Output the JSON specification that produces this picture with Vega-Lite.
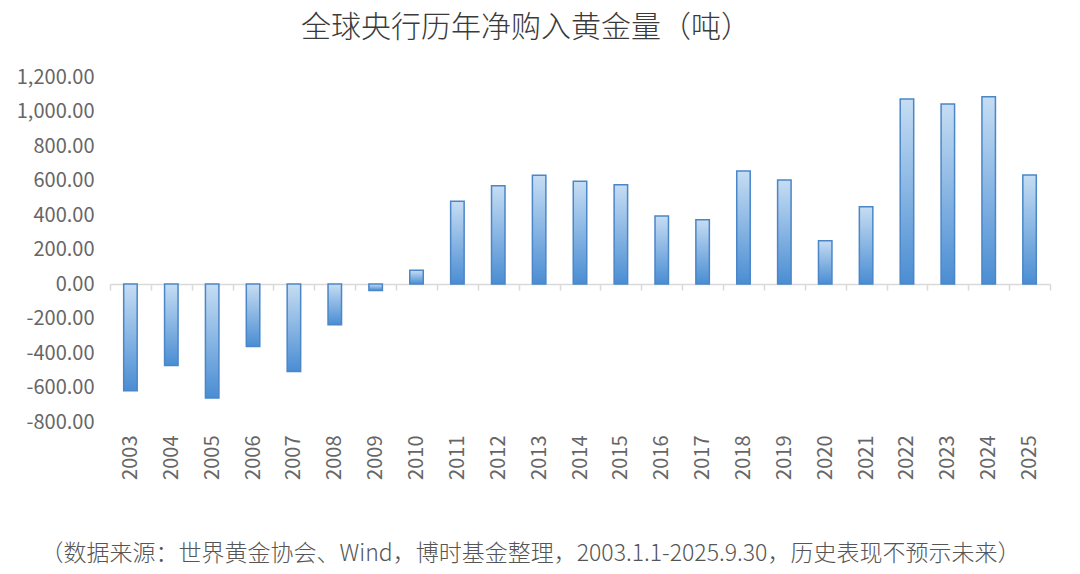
{
  "$schema": "https://vega.github.io/schema/vega-lite/v6.json",
  "description": "全球央行历年净购入黄金量（吨）",
  "width": 940,
  "height": 345,
  "autosize": {"type": "none"},
  "padding": {"left": 110, "top": 77, "right": 30, "bottom": 152},
  "background": "white",
  "title": {
    "text": "全球央行历年净购入黄金量（吨）",
    "font": "Noto Sans CJK SC",
    "fontSize": 30,
    "fontWeight": 300,
    "color": "#3a3a3a",
    "anchor": "middle",
    "dx": -54,
    "offset": 24
  },
  "data": {
    "values": [
      {"year": "2003", "tons": -619},
      {"year": "2004", "tons": -472},
      {"year": "2005", "tons": -661},
      {"year": "2006", "tons": -362},
      {"year": "2007", "tons": -507},
      {"year": "2008", "tons": -236},
      {"year": "2009", "tons": -37},
      {"year": "2010", "tons": 79},
      {"year": "2011", "tons": 479},
      {"year": "2012", "tons": 570},
      {"year": "2013", "tons": 630},
      {"year": "2014", "tons": 595},
      {"year": "2015", "tons": 576},
      {"year": "2016", "tons": 394},
      {"year": "2017", "tons": 373},
      {"year": "2018", "tons": 655},
      {"year": "2019", "tons": 603},
      {"year": "2020", "tons": 251},
      {"year": "2021", "tons": 448},
      {"year": "2022", "tons": 1072},
      {"year": "2023", "tons": 1043},
      {"year": "2024", "tons": 1086},
      {"year": "2025", "tons": 632}
    ]
  },
  "mark": {
    "type": "bar",
    "width": {"band": 0.33},
    "stroke": "#4a86c8",
    "strokeWidth": 1.5,
    "fill": {
      "gradient": "linear",
      "x1": 0, "y1": 0, "x2": 0, "y2": 1,
      "stops": [
        {"offset": 0, "color": "#c6ddf3"},
        {"offset": 1, "color": "#4a8dd3"}
      ]
    }
  },
  "encoding": {
    "x": {
      "field": "year",
      "type": "ordinal",
      "scale": {"paddingInner": 0, "paddingOuter": 0},
      "axis": {
        "orient": "bottom",
        "offset": -138,
        "domainColor": "#d9d9d9",
        "domainWidth": 1.5,
        "tickColor": "#d9d9d9",
        "tickWidth": 1.5,
        "tickSize": 6,
        "tickBand": "extent",
        "labelAngle": -90,
        "labelAlign": "right",
        "labelBaseline": "middle",
        "labelPadding": 145,
        "labelFont": "Noto Sans CJK SC",
        "labelFontSize": 20,
        "labelColor": "#666666",
        "title": "（数据来源：世界黄金协会、Wind，博时基金整理，2003.1.1-2025.9.30，历史表现不预示未来）",
        "titleFont": "Noto Sans CJK SC",
        "titleFontSize": 23,
        "titleFontWeight": 300,
        "titleColor": "#555555",
        "titleX": 420,
        "titleAlign": "center",
        "titlePadding": 63
      }
    },
    "y": {
      "field": "tons",
      "type": "quantitative",
      "scale": {"domain": [-800, 1200], "nice": false},
      "axis": {
        "values": [-800, -600, -400, -200, 0, 200, 400, 600, 800, 1000, 1200],
        "labelExpr": "replace(format(datum.value, ',.2f'), '−', '-')",
        "domain": false,
        "ticks": false,
        "grid": false,
        "labelPadding": 16,
        "labelFont": "Noto Sans CJK SC",
        "labelFontSize": 20,
        "labelColor": "#666666",
        "title": null
      }
    }
  },
  "config": {
    "view": {"stroke": null}
  }
}
